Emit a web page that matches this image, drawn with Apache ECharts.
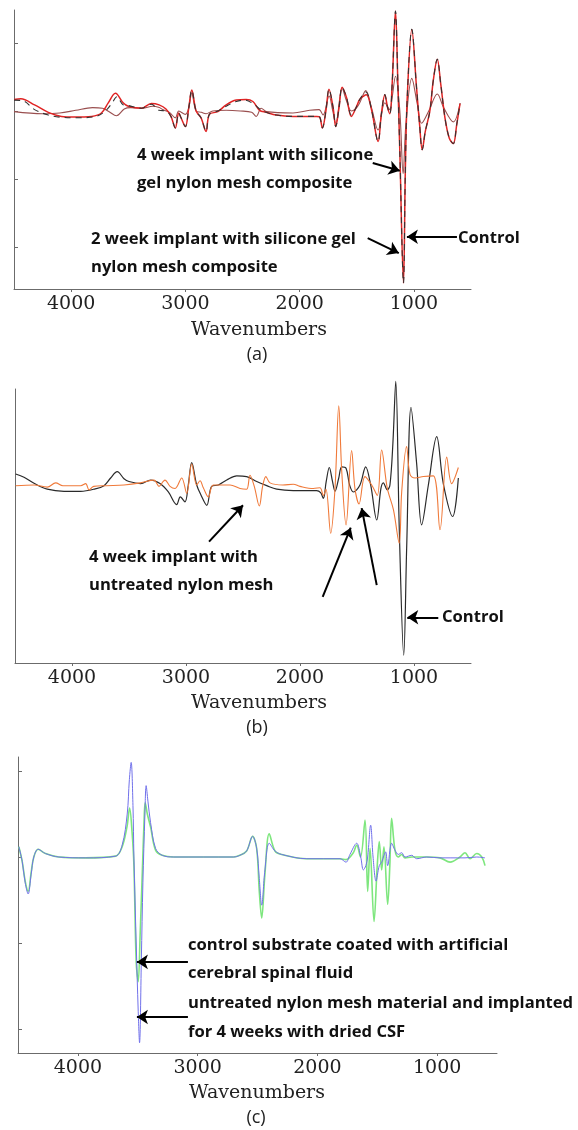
<!DOCTYPE html>
<html>
<head>
<meta charset="utf-8">
<script src="https://cdn.jsdelivr.net/npm/echarts@6/dist/echarts.min.js"></script>
<style>
html,body{margin:0;padding:0;background:#fff;}
#chart{width:578px;height:1130px;}
</style>
</head>
<body>
<div id="chart"></div>
<script>
// ---- tick labels ----
const wnTicks = [4000, 3000, 2000, 1000];
const yTicksA = [-2, -1, 0, 1];
const yTicksC = [-2, -1, 0, 1];

// ---- panel (a): [wavenumber, signal] ----
const twoWeekA = [[4500,0.17],[4440,0.18],[4320,0.09],[4200,-0.02],[4085,-0.08],[3970,-0.09],[3820,-0.08],[3735,-0.03],[3675,0.12],[3612,0.26],[3545,0.12],[3500,0.07],[3385,0.04],[3298,0.11],[3230,0.09],[3170,0.03],[3126,-0.08],[3088,-0.25],[3058,-0.03],[3038,-0.1],[3000,-0.23],[2970,0.05],[2944,0.31],[2906,0.0],[2863,-0.1],[2819,-0.30],[2790,-0.05],[2716,-0.01],[2643,0.09],[2555,0.16],[2468,0.17],[2409,0.14],[2351,0.01],[2292,-0.02],[2205,-0.06],[2058,-0.08],[1912,-0.08],[1850,-0.08],[1824,-0.09],[1801,-0.25],[1770,0.0],[1743,0.32],[1707,0.05],[1684,-0.23],[1655,0.05],[1628,0.35],[1590,0.2],[1547,-0.08],[1503,0.06],[1474,0.17],[1440,0.22],[1415,0.24],[1371,0.02],[1313,-0.45],[1285,-0.05],[1254,0.24],[1230,0.05],[1210,-0.04],[1190,0.4],[1161,1.47],[1140,0.4],[1123,-0.6],[1091,-2.53],[1075,-0.9],[1058,0.2],[1018,1.2],[977,0.35],[950,-0.2],[927,-0.57],[900,-0.3],[860,0.0],[830,0.45],[795,0.76],[765,0.4],[728,-0.1],[690,-0.4],[655,-0.48],[625,-0.2],[596,0.11]];
const controlA = [[4500,0.16],[4420,0.15],[4320,0.02],[4200,-0.06],[4100,-0.09],[3960,-0.1],[3780,-0.08],[3700,0.0],[3640,0.12],[3600,0.21],[3545,0.09],[3500,0.08],[3385,0.04],[3298,0.1],[3230,0.01],[3170,0.0],[3126,-0.08],[3088,-0.25],[3058,-0.03],[3038,-0.1],[3000,-0.23],[2970,0.05],[2944,0.31],[2906,0.0],[2863,-0.1],[2819,-0.30],[2790,-0.05],[2716,0.0],[2643,0.07],[2555,0.14],[2480,0.16],[2400,0.1],[2350,0.03],[2292,-0.02],[2205,-0.06],[2058,-0.08],[1912,-0.08],[1850,-0.08],[1824,-0.09],[1801,-0.25],[1770,0.0],[1743,0.32],[1707,0.05],[1684,-0.23],[1655,0.05],[1628,0.35],[1590,0.2],[1547,-0.06],[1503,0.06],[1474,0.17],[1421,0.28],[1371,0.02],[1313,-0.45],[1285,-0.05],[1254,0.24],[1230,0.05],[1210,-0.04],[1190,0.4],[1161,1.47],[1140,0.4],[1123,-0.6],[1091,-2.53],[1075,-0.9],[1058,0.2],[1018,1.2],[977,0.35],[950,-0.2],[927,-0.57],[900,-0.3],[860,0.0],[830,0.45],[795,0.76],[765,0.4],[728,-0.1],[690,-0.4],[655,-0.48],[625,-0.2],[596,0.11]];
const fourWeekA = [[4500,-0.01],[4250,-0.04],[4100,-0.03],[3960,0.01],[3813,0.05],[3725,0.04],[3667,-0.01],[3603,-0.07],[3535,0.03],[3480,0.05],[3374,0.04],[3287,0.07],[3228,0.05],[3199,0.02],[3140,-0.02],[3088,-0.1],[3058,0.0],[3000,-0.05],[2970,0.05],[2944,0.26],[2906,0.0],[2860,-0.02],[2819,-0.04],[2760,0.0],[2643,0.01],[2520,0.0],[2420,-0.02],[2380,-0.08],[2336,0.04],[2290,-0.01],[2058,-0.03],[1912,0.01],[1830,0.02],[1795,-0.06],[1742,0.22],[1710,0.0],[1684,-0.18],[1628,0.33],[1590,0.15],[1547,0.0],[1500,0.05],[1474,0.12],[1421,0.3],[1371,0.05],[1313,-0.28],[1254,0.12],[1210,0.02],[1190,0.2],[1161,0.51],[1123,0.0],[1094,-0.92],[1070,-0.2],[1018,0.48],[970,0.1],[933,-0.18],[870,0.0],[795,0.25],[740,0.05],[655,-0.16],[596,0.11]];

// ---- panel (b) ----
const controlB = [[4494,0.157],[4421,0.11],[4333,0.024],[4217,-0.06],[4070,-0.09],[3924,-0.09],[3807,-0.06],[3719,-0.01],[3661,0.1],[3603,0.19],[3544,0.09],[3500,0.05],[3397,0.02],[3310,0.07],[3228,0.02],[3155,-0.1],[3082,-0.28],[3050,-0.17],[3009,-0.24],[2980,0.0],[2950,0.32],[2906,0.0],[2870,-0.14],[2818,-0.29],[2775,-0.02],[2716,0.0],[2643,0.07],[2555,0.13],[2468,0.12],[2380,0.05],[2292,-0.01],[2204,-0.06],[2059,-0.08],[1912,-0.08],[1854,-0.08],[1819,-0.11],[1795,-0.19],[1770,0.05],[1743,0.25],[1715,0.05],[1693,-0.09],[1660,0.1],[1634,0.26],[1596,0.24],[1565,0.0],[1532,-0.1],[1474,0.0],[1424,0.26],[1380,0.0],[1327,-0.5],[1290,-0.05],[1269,0.03],[1234,-0.07],[1211,0.0],[1185,0.6],[1160,1.48],[1129,-0.64],[1090,-2.43],[1064,-0.88],[1026,1.11],[977,0.31],[933,-0.57],[874,0.0],[801,0.69],[743,0.02],[661,-0.45],[611,0.1]];
const fourWeekB = [[4494,-0.01],[4333,0.0],[4217,-0.03],[4143,0.03],[4080,-0.01],[3924,-0.01],[3880,0.02],[3850,-0.07],[3810,-0.02],[3700,-0.01],[3544,0.0],[3400,0.03],[3281,0.07],[3237,-0.02],[3200,0.05],[3184,0.07],[3140,-0.02],[3096,-0.05],[3038,0.1],[2994,-0.12],[2950,0.3],[2906,0.0],[2877,0.06],[2848,-0.04],[2804,-0.17],[2760,0.0],[2614,0.0],[2526,-0.05],[2468,-0.06],[2439,0.14],[2401,-0.02],[2357,-0.3],[2328,-0.02],[2299,0.12],[2263,0.03],[2150,0.0],[2059,0.01],[2000,-0.02],[1883,-0.05],[1825,-0.04],[1795,-0.15],[1772,-0.06],[1731,-0.69],[1693,-0.05],[1660,1.13],[1634,0.2],[1596,-0.57],[1547,0.49],[1518,-0.05],[1482,-0.27],[1430,0.12],[1371,0.0],[1322,-0.15],[1284,0.5],[1234,-0.05],[1181,-0.35],[1130,-0.83],[1108,-0.1],[1065,0.55],[1035,0.15],[991,0.1],[918,0.12],[830,0.13],[772,-0.64],[713,0.4],[670,0.02],[611,0.25]];

// ---- panel (c) ----
const nylonCSF = [[4493,0.12],[4465,-0.05],[4440,-0.3],[4415,-0.43],[4390,-0.2],[4368,0.0],[4332,0.09],[4270,0.04],[4159,0.0],[3936,-0.01],[3685,0.01],[3630,0.14],[3588,0.5],[3570,0.9],[3555,1.10],[3540,0.6],[3532,0.0],[3513,-1.0],[3496,-1.8],[3485,-2.16],[3470,-1.2],[3457,-0.3],[3440,0.5],[3430,0.83],[3415,0.65],[3393,0.4],[3351,0.1],[3296,0.02],[3200,0.0],[2700,0.0],[2647,0.02],[2591,0.07],[2541,0.24],[2507,0.1],[2485,-0.25],[2465,-0.56],[2438,-0.15],[2402,0.16],[2354,0.07],[2299,0.03],[2089,-0.02],[1811,-0.02],[1761,-0.06],[1728,0.03],[1672,0.16],[1638,0.0],[1616,-0.15],[1595,-0.1],[1580,0.0],[1555,0.37],[1535,0.0],[1510,-0.28],[1483,-0.1],[1460,-0.05],[1444,0.02],[1430,0.06],[1413,-0.1],[1380,0.16],[1352,0.08],[1324,0.03],[1296,0.05],[1268,0.0],[1212,0.02],[1171,-0.02],[1087,0.0],[976,-0.01],[892,-0.01],[767,-0.01],[669,0.0],[600,-0.01]];
const controlCSF = [[4493,0.12],[4465,-0.05],[4440,-0.28],[4415,-0.40],[4390,-0.18],[4368,0.0],[4332,0.09],[4270,0.04],[4159,0.0],[3936,-0.01],[3685,0.01],[3630,0.12],[3590,0.35],[3568,0.57],[3548,0.3],[3532,-0.1],[3513,-1.22],[3496,-1.45],[3480,-0.9],[3460,-0.1],[3445,0.5],[3438,0.63],[3420,0.5],[3393,0.35],[3351,0.08],[3296,0.02],[3200,0.0],[2700,0.0],[2647,0.02],[2591,0.07],[2541,0.24],[2507,0.1],[2485,-0.4],[2465,-0.71],[2438,-0.2],[2402,0.27],[2354,0.07],[2299,0.03],[2089,-0.02],[1811,-0.02],[1761,-0.03],[1700,0.05],[1672,0.14],[1640,0.0],[1602,0.43],[1580,-0.40],[1560,0.1],[1527,-0.75],[1500,-0.1],[1483,0.18],[1463,-0.15],[1444,0.12],[1413,-0.55],[1395,-0.1],[1380,0.45],[1352,0.08],[1324,0.0],[1296,0.03],[1268,-0.01],[1212,0.0],[1087,0.0],[976,-0.01],[892,-0.06],[809,0.0],[767,0.05],[725,-0.02],[669,0.04],[627,0.0],[600,-0.1]];

const AXC = '#6b6b6b';
const ANN = {fontFamily:'Open Sans', fontWeight:700, fontSize:16.6, fill:'#111'};
const SERIF = {fontFamily:'DejaVu Serif', fontSize:19, fill:'#222'};

function xAx(gi){
  return {type:'value', gridIndex:gi, min:500, max:4500, inverse:true,
    axisLine:{onZero:false, lineStyle:{color:AXC,width:1}},
    axisTick:{show:true, length:3, customValues:wnTicks, lineStyle:{color:AXC}},
    axisLabel:{customValues:wnTicks, formatter:(v)=>String(v), margin:6, color:'#222', fontFamily:'DejaVu Serif', fontSize:19},
    splitLine:{show:false}};
}
function yAx(gi,min,max,ticks){
  return {type:'value', gridIndex:gi, min:min, max:max,
    axisLine:{show:true, onZero:false, lineStyle:{color:AXC,width:1}},
    axisTick:ticks?{show:true, inside:true, length:4, customValues:ticks, lineStyle:{color:AXC}}:{show:false},
    axisLabel:{show:false}, splitLine:{show:false}};
}
function arrows(list){
  return {silent:true, animation:false, symbol:['none','arrow'], symbolSize:11,
    label:{show:false}, lineStyle:{color:'#000', width:2, type:'solid'},
    emphasis:{disabled:true},
    data:list.map(a=>[{coord:a[0], symbol:'none'},{coord:a[1], symbol:'arrow'}])};
}
function line(name,data,xi,color,width,dash,z,extra){
  return Object.assign({type:'line', name:name, data:data, xAxisIndex:xi, yAxisIndex:xi,
    showSymbol:false, smooth:0.35, clip:false, z:z,
    lineStyle:{color:color, width:width, type:dash||'solid'}}, extra||{});
}

const option = {
  animation:false,
  grid:[
    {left:14, top:10, width:457, height:279},
    {left:15, top:389, width:456, height:274},
    {left:18, top:757, width:479, height:296}
  ],
  xAxis:[xAx(0), xAx(1), xAx(2)],
  yAxis:[yAx(0,-2.618,1.485,yTicksA), yAx(1,-2.543,1.371,null), yAx(2,-2.279,1.163,yTicksC)],
  series:[
    line('4 week implant with silicone gel nylon mesh composite', fourWeekA, 0, '#9a4f4f', 1.1, null, 2),
    line('2 week implant with silicone gel nylon mesh composite', twoWeekA, 0, '#e02424', 1.5, null, 3,
      {markLine:arrows([[[1360,-0.765],[1123,-0.88]],[[1404,-1.87],[1132,-2.09]],[[623,-1.85],[1061,-1.85]]])}),
    line('Control', controlA, 0, '#333', 1.1, [6,5], 4),
    line('4 week implant with untreated nylon mesh', fourWeekB, 1, '#f07a3a', 1.1, null, 3),
    line('Control', controlB, 1, '#2a2a2a', 1.2, null, 2,
      {markLine:arrows([[[2798,-0.81],[2500,-0.29]],[[1801,-1.6],[1555,-0.61]],[[1327,-1.43],[1459,-0.33]],[[787,-1.89],[1059,-1.89]]])}),
    line('control substrate coated with artificial cerebral spinal fluid', controlCSF, 2, '#7ee67e', 1.6, null, 2),
    line('untreated nylon mesh material and implanted for 4 weeks with dried CSF', nylonCSF, 2, '#7070ea', 1.0, null, 3,
      {markLine:arrows([[[3081,-1.22],[3507,-1.22]],[[3081,-1.86],[3507,-1.86]]])})
  ],
  graphic:[
    {type:'text', x:137, y:155, style:Object.assign({text:'4 week implant with silicone', verticalAlign:'middle'},ANN)},
    {type:'text', x:137, y:183, style:Object.assign({text:'gel nylon mesh composite', verticalAlign:'middle'},ANN)},
    {type:'text', x:91, y:239, style:Object.assign({text:'2 week implant with silicone gel', verticalAlign:'middle'},ANN)},
    {type:'text', x:91, y:267, style:Object.assign({text:'nylon mesh composite', verticalAlign:'middle'},ANN)},
    {type:'text', x:458, y:238, style:Object.assign({text:'Control', verticalAlign:'middle'},ANN)},
    {type:'text', x:89, y:557, style:Object.assign({text:'4 week implant with', verticalAlign:'middle'},ANN)},
    {type:'text', x:89, y:585, style:Object.assign({text:'untreated nylon mesh', verticalAlign:'middle'},ANN)},
    {type:'text', x:442, y:617, style:Object.assign({text:'Control', verticalAlign:'middle'},ANN)},
    {type:'text', x:188, y:945, style:Object.assign({text:'control substrate coated with artificial', verticalAlign:'middle'},ANN)},
    {type:'text', x:188, y:973, style:Object.assign({text:'cerebral spinal fluid', verticalAlign:'middle'},ANN)},
    {type:'text', x:188, y:1003, style:Object.assign({text:'untreated nylon mesh material and implanted', verticalAlign:'middle'},ANN)},
    {type:'text', x:188, y:1032, style:Object.assign({text:'for 4 weeks with dried CSF', verticalAlign:'middle'},ANN)},
    {type:'text', x:259, y:330, style:Object.assign({text:'Wavenumbers', align:'center', verticalAlign:'middle'},SERIF)},
    {type:'text', x:259, y:703, style:Object.assign({text:'Wavenumbers', align:'center', verticalAlign:'middle'},SERIF)},
    {type:'text', x:257, y:1093, style:Object.assign({text:'Wavenumbers', align:'center', verticalAlign:'middle'},SERIF)},
    {type:'text', x:257, y:355, style:{text:'(a)', align:'center', verticalAlign:'middle', fontFamily:'Open Sans', fontSize:18, fill:'#222'}},
    {type:'text', x:257, y:728, style:{text:'(b)', align:'center', verticalAlign:'middle', fontFamily:'Open Sans', fontSize:18, fill:'#222'}},
    {type:'text', x:256, y:1118, style:{text:'(c)', align:'center', verticalAlign:'middle', fontFamily:'Open Sans', fontSize:18, fill:'#222'}}
  ]
};
const chart = echarts.init(document.getElementById('chart'), null, {renderer:'canvas'});
chart.setOption(option);
</script>
</body>
</html>
